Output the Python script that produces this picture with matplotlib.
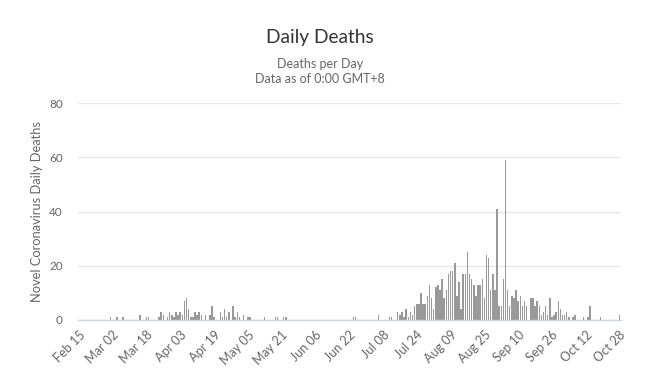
import matplotlib
matplotlib.use("Agg")
import matplotlib.pyplot as plt
import numpy as np

# Daily deaths from Feb 15 to Oct 28 (257 days), grouped by 16 days
deaths_rows = [
    [0,0,0,0,0,0,0,0,0,0,0,0,0,0,0,1],        # Feb 15 - Mar 01
    [0,0,1,0,0,1,0,0,0,0,0,0,0,2,0,0],        # Mar 02 - Mar 17
    [1,1,0,0,0,0,1,3,2,0,1,3,2,1,3,2],        # Mar 18 - Apr 02
    [3,2,7,8,4,1,1,3,2,3,2,0,2,0,2,5],        # Apr 03 - Apr 18
    [1,0,0,3,1,4,1,3,0,5,1,3,1,0,2,0],        # Apr 19 - May 04
    [1,1,0,0,0,0,0,0,1,0,0,0,0,1,1,0],        # May 05 - May 20
    [0,1,1,0,0,0,0,0,0,0,0,0,0,0,0,0],        # May 21 - Jun 05
    [0,0,0,0,0,0,0,0,0,0,0,0,0,0,0,0],        # Jun 06 - Jun 21
    [0,0,1,1,0,0,0,0,0,0,0,0,0,0,2,0],        # Jun 22 - Jul 07
    [0,0,0,1,1,0,0,3,2,3,1,4,1,3,2,5],        # Jul 08 - Jul 23
    [6,6,10,6,6,9,13,8,4,12,13,11,15,8,11,17],# Jul 24 - Aug 08
    [18,18,21,9,14,4,17,17,25,17,15,13,9,13,13,15], # Aug 09 - Aug 24
    [8,24,23,11,17,11,41,5,5,15,59,11,5,9,8,11],    # Aug 25 - Sep 09
    [7,9,5,7,5,0,8,8,5,7,5,2,3,5,2,8],        # Sep 10 - Sep 25
    [1,2,3,7,4,2,2,3,1,0,1,2,0,0,0,1],        # Sep 26 - Oct 11
    [0,1,5,0,0,0,0,1,0,0,0,0,0,0,0,0],        # Oct 12 - Oct 27
    [2],                                      # Oct 28
]
deaths = [v for row in deaths_rows for v in row]

tick_labels = ["Feb 15", "Mar 02", "Mar 18", "Apr 03", "Apr 19", "May 05",
               "May 21", "Jun 06", "Jun 22", "Jul 08", "Jul 24", "Aug 09",
               "Aug 25", "Sep 10", "Sep 26", "Oct 12", "Oct 28"]
y_ticks = [0, 20, 40, 60, 80]

plt.rcParams['font.family'] = ['Lato', 'DejaVu Sans']

W, H = 661, 376
fig = plt.figure(figsize=(W/100, H/100), dpi=100)
ax = fig.add_axes([78/W, 1-320/H, (621-78)/W, (320-103)/H])

days = np.arange(len(deaths))
ax.bar(days, deaths, width=0.7, color='#999999', linewidth=0, zorder=3)

ax.set_xlim(-0.4, len(deaths) - 0.3)
ax.set_ylim(0, 80)
ax.set_yticks(y_ticks)
ax.set_yticklabels([str(v) for v in y_ticks], color='#666666', fontsize=8.5)
ax.set_xticks(np.arange(0, len(deaths), 16))
ax.set_xticklabels(tick_labels, rotation=45, ha='right', va='top',
                   rotation_mode='anchor', color='#666666', fontsize=9)
ax.tick_params(axis='both', length=0)
ax.tick_params(axis='y', pad=11)
ax.tick_params(axis='x', pad=6)

ax.grid(axis='y', color='#e6e6e6', linewidth=1, zorder=0)
for s in ['top', 'right', 'left']:
    ax.spines[s].set_visible(False)
ax.spines['bottom'].set_color('#ccd6eb')
ax.spines['bottom'].set_linewidth(1)
ax.spines['bottom'].set_zorder(4)

ax.set_ylabel('Novel Coronavirus Daily Deaths', color='#666666', fontsize=9.3, labelpad=4)

fig.text(320/W, 1-38/H, 'Daily Deaths', ha='center', va='center',
         fontsize=13.8, color='#333333')
fig.text(320/W, 1-64/H, 'Deaths per Day', ha='center', va='center',
         fontsize=9, color='#666666')
fig.text(320/W, 1-79/H, 'Data as of 0:00 GMT+8', ha='center', va='center',
         fontsize=9, color='#666666')

fig.savefig('out.png', dpi=100, facecolor='white')
